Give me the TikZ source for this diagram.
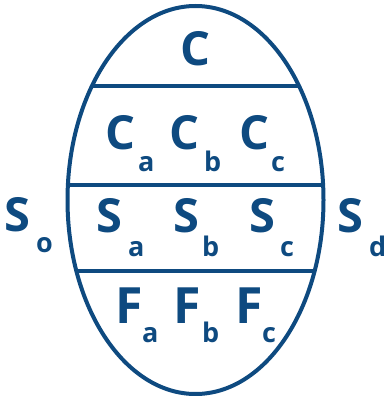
\documentclass[tikz,border=0pt]{standalone}
\usepackage{fontspec}
\setmainfont{Open Sans}
\usepackage{tikz}
\definecolor{eggblue}{RGB}{14,74,128}

\tikzset{
lbl/.style={anchor=base west,inner sep=0pt,text=eggblue,font=\bfseries\fontsize{47}{47}\selectfont},
biglbl/.style={lbl,font=\bfseries\fontsize{50}{50}\selectfont},
sublbl/.style={anchor=base west,inner sep=0pt,text=eggblue,font=\bfseries\fontsize{27}{27}\selectfont}
}

\begin{document}
\begin{tikzpicture}[x=1pt,y=-1pt]

\def\eggx{195.5};
\def\eggy{200};
\def\eggrx{128};
\def\eggry{194};
\def\eline{4pt};

\useasboundingbox (0,0) rectangle (386,396);

% the three bands
\begin{scope}
\clip (\eggx,\eggy) ellipse [x radius=\eggrx, y radius=\eggry];
\foreach \y in {86,184.5,271}
{
\draw [line width=\eline,eggblue] (0,\y) -- (386,\y);
}
\end{scope}

\draw [line width=\eline,eggblue] (\eggx,\eggy) ellipse [x radius=\eggrx, y radius=\eggry];

\node [lbl] (ctop) at (180,66) {C};

% main letter and its subscript
\foreach \m/\s/\x/\y/\u/\v [count=\i] in {C/a/105/149/138/171, C/b/169/149/204/171, C/c/239/149/271/171, S/o/4/231/36/252, S/a/96/232/128/256, S/b/173/232/202/256, S/c/249/232/280/256, S/d/337/232/369/256}
{
\node [lbl] (m\i) at (\x,\y) {\m};
\node [sublbl] (s\i) at (\u,\v) {\s};
}

\foreach \m/\s/\x/\y/\u/\v [count=\i] in {F/a/115/323/142/342, F/b/173/323/202/342, F/c/235/323/262/342}
{
\node [biglbl] (f\i) at (\x,\y) {\m};
\node [sublbl] (g\i) at (\u,\v) {\s};
}

\end{tikzpicture}
\end{document}
